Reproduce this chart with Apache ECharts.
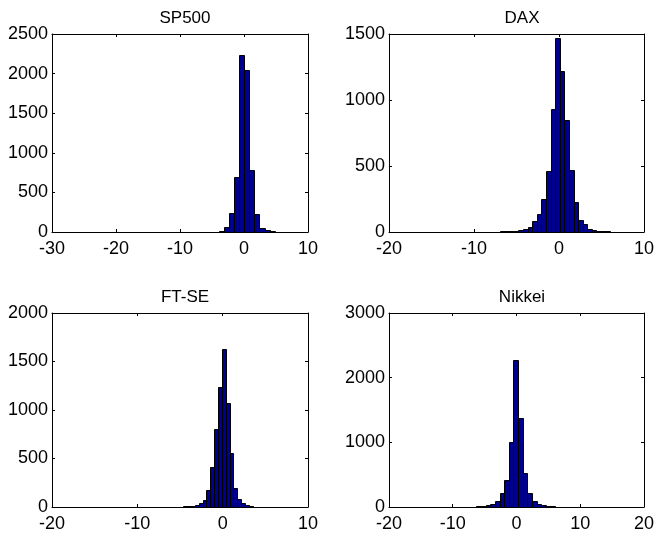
<!DOCTYPE html>
<html><head><meta charset="utf-8">
<script src="https://cdn.jsdelivr.net/npm/echarts@6/dist/echarts.min.js"></script>
<style>html,body{margin:0;padding:0;background:#fff}#c{width:657px;height:536px}</style>
</head><body><div id="c"></div>
<script>
// ---- data ----
const titles = ['SP500', 'DAX', 'FT-SE', 'Nikkei'];

// histogram bins: first edge, bin width, counts (40 bins each)
const sp500BinStart = -22.86, sp500BinWidth = 0.79;
const sp500Counts = [1,0,0,0,0,0,0,0,0,0, 0,0,0,0,0,0,0,0,1,1, 2,3,4,6,15,67,244,699,2235,2050, 779,227,55,25,12,6,3,1,0,1];

const daxBinStart = -13.41, daxBinWidth = 0.54;
const daxCounts = [1,0,0,0,0,1,0,1,1,2, 2,3,4,5,8,10,13,24,40,85, 133,250,463,930,1466,1218,845,470,227,93, 62,22,12,6,5,4,3,2,1,1];

const ftseBinStart = -12.774, ftseBinWidth = 0.453;
const ftseCounts = [1,0,0,0,1,0,0,1,0,1, 1,1,2,2,2,3,3,4,6,8, 13,24,38,76,172,413,802,1240,1629,1074, 558,196,86,41,17,8,5,3,2,1];

const nikkeiBinStart = -15.80, nikkeiBinWidth = 0.73;
const nikkeiCounts = [1,0,0,0,0,1,0,1,1,2, 2,3,5,8,15,26,52,98,222,423, 1002,2271,1373,522,222,93,52,26,10,8, 5,3,2,2,1,1,0,1,0,1];

// axis ranges / ticks
const xMins = [-30, -20, -20, -20];
const xMaxs = [10, 10, 10, 20];
const xSteps = [10, 10, 10, 10];
const yMaxs = [2500, 1500, 2000, 3000];
const ySteps = [500, 500, 500, 1000];

// ---- build ----
const hists = [
  [sp500BinStart, sp500BinWidth, sp500Counts],
  [daxBinStart, daxBinWidth, daxCounts],
  [ftseBinStart, ftseBinWidth, ftseCounts],
  [nikkeiBinStart, nikkeiBinWidth, nikkeiCounts]
];
const grids = [
  {left: 52, top: 34, width: 256, height: 198},
  {left: 389, top: 34, width: 256, height: 198},
  {left: 52, top: 313, width: 256, height: 194},
  {left: 389, top: 313, width: 256, height: 194}
];
const FONT = '"Liberation Sans", Arial, Helvetica, sans-serif';
const axisLine = {show: true, onZero: false, lineStyle: {color: '#000', width: 1}};
const tick = {show: true, inside: true, length: 3, lineStyle: {color: '#000', width: 1}};
const plain = v => String(v);

const xAxes = [], yAxes = [], series = [], titleArr = [];
grids.forEach((g, i) => {
  const base = {type: 'value', gridIndex: i, splitLine: {show: false}, axisLine: axisLine, axisTick: tick};
  xAxes.push(Object.assign({}, base, {position: 'bottom', min: xMins[i], max: xMaxs[i], interval: xSteps[i],
    axisLabel: {color: '#000', fontSize: 18, fontFamily: FONT, margin: 8, formatter: plain, showMinLabel: true, showMaxLabel: true}}));
  xAxes.push(Object.assign({}, base, {position: 'top', min: xMins[i], max: xMaxs[i], interval: xSteps[i],
    axisLabel: {show: false}}));
  yAxes.push(Object.assign({}, base, {position: 'left', min: 0, max: yMaxs[i], interval: ySteps[i],
    axisLabel: {color: '#000', fontSize: 18, fontFamily: FONT, margin: 4, formatter: plain, showMinLabel: true, showMaxLabel: true}}));
  yAxes.push(Object.assign({}, base, {position: 'right', min: 0, max: yMaxs[i], interval: ySteps[i],
    axisLabel: {show: false}}));
  const [start, w, counts] = hists[i];
  const data = counts.map((c, k) => [start + k * w, start + (k + 1) * w, c]);
  series.push({
    type: 'custom', xAxisIndex: 2 * i, yAxisIndex: 2 * i, data: data,
    encode: {x: [0, 1], y: 2}, clip: true, silent: true,
    renderItem: function (params, api) {
      if (api.value(2) <= 0) return null;
      const p0 = api.coord([api.value(0), 0]);
      const p1 = api.coord([api.value(1), api.value(2)]);
      const x0 = Math.round(p0[0]) + 0.5, x1 = Math.round(p1[0]) + 0.5;
      const yb = Math.round(p0[1]) + 0.5, yt = Math.round(p1[1]) + 0.5;
      return {type: 'rect',
        shape: {x: x0, y: yt, width: x1 - x0, height: yb - yt},
        style: {fill: '#00008F', stroke: '#000', lineWidth: 1}};
    }
  });
  titleArr.push({text: titles[i], left: g.left + g.width / 2, top: g.top - 29, textAlign: 'center',
    textStyle: {color: '#000', fontSize: 17, fontWeight: 'normal', fontFamily: FONT}});
});

const chart = echarts.init(document.getElementById('c'), null, {renderer: 'canvas'});
chart.setOption({
  backgroundColor: '#fff',
  animation: false,
  title: titleArr,
  grid: grids,
  xAxis: xAxes,
  yAxis: yAxes,
  series: series
});
</script>
</body></html>
